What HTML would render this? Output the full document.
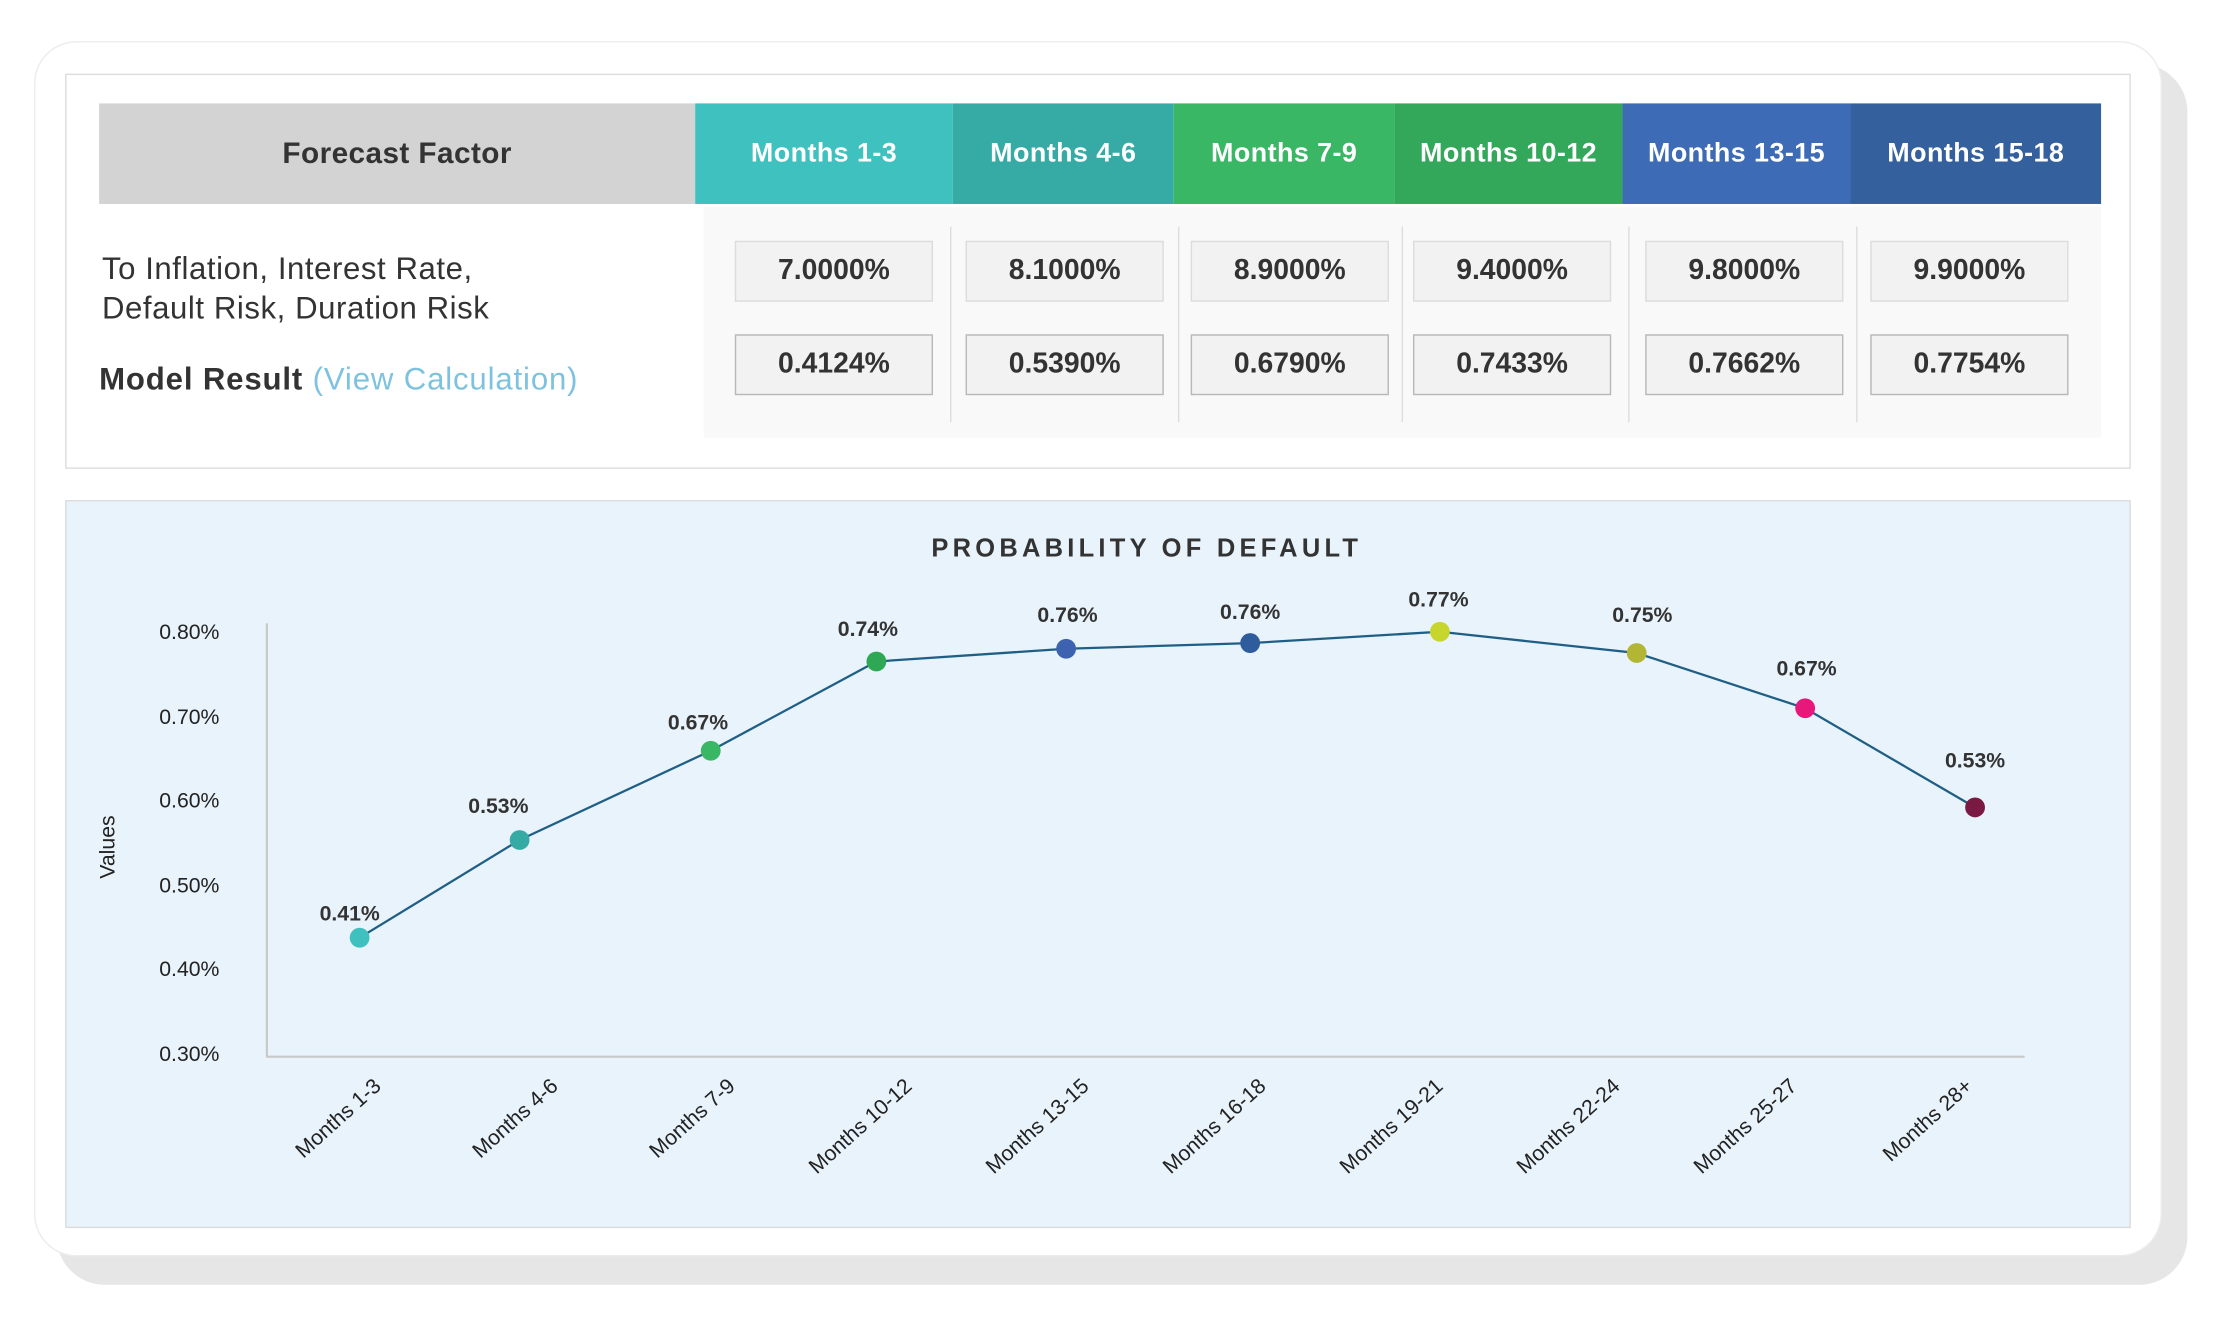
<!DOCTYPE html>
<html><head><meta charset="utf-8"><style>
html,body{margin:0;padding:0;background:#fff;}
body{width:2220px;height:1340px;overflow:hidden;position:relative;font-family:"Liberation Sans",sans-serif;}
#w{position:absolute;left:0;top:0;width:1568px;height:946px;transform:scale(1.41582,1.41649);transform-origin:0 0;}
.a{position:absolute;}
.hd{position:absolute;top:73px;height:71px;color:#fff;font-weight:bold;font-size:19px;letter-spacing:0.3px;display:flex;align-items:center;justify-content:center;}
.bx{position:absolute;width:138px;height:41px;background:#f2f2f2;border:1px solid #dcdcdc;font-size:20px;font-weight:bold;color:#333;display:flex;align-items:center;justify-content:center;}
.r2{top:236px;border-color:#b8b8b8;}
.r1{top:170px;}
.sep{position:absolute;top:160px;height:138px;width:1px;background:#ddd;}
</style></head><body><div id="w">
<div class="a" style="left:40px;top:45px;width:1505px;height:862px;background:#e6e6e6;border-radius:34px;"></div>
<div class="a" style="left:24px;top:29px;width:1503px;height:858px;background:#fff;border-radius:30px;border:1.5px solid #ececec;box-sizing:border-box;"></div>
<div class="a" style="left:46px;top:52px;width:1457px;height:277px;border:1px solid #ddd;background:#fff;"></div>
<div class="hd" style="left:70px;width:421px;background:#d3d3d3;color:#333;font-size:21px;">Forecast Factor</div>
<div class="hd" style="left:491px;width:182px;background:#3fc1c0;">Months 1-3</div>
<div class="hd" style="left:673px;width:156px;background:#36aba6;">Months 4-6</div>
<div class="hd" style="left:829px;width:156px;background:#3ab764;">Months 7-9</div>
<div class="hd" style="left:985px;width:161px;background:#33a85a;">Months 10-12</div>
<div class="hd" style="left:1146px;width:161px;background:#3d6bb5;">Months 13-15</div>
<div class="hd" style="left:1307px;width:177px;background:#34609e;">Months 15-18</div>
<div class="a" style="left:497px;top:146px;width:987px;height:163px;background:#f9f9f9;"></div>
<div class="sep" style="left:671px"></div><div class="sep" style="left:832px"></div><div class="sep" style="left:990px"></div><div class="sep" style="left:1150px"></div><div class="sep" style="left:1311px"></div>
<div class="bx r1" style="left:519px">7.0000%</div><div class="bx r1" style="left:682px">8.1000%</div><div class="bx r1" style="left:841px">8.9000%</div><div class="bx r1" style="left:998px">9.4000%</div><div class="bx r1" style="left:1162px">9.8000%</div><div class="bx r1" style="left:1321px">9.9000%</div>
<div class="bx r2" style="left:519px">0.4124%</div><div class="bx r2" style="left:682px">0.5390%</div><div class="bx r2" style="left:841px">0.6790%</div><div class="bx r2" style="left:998px">0.7433%</div><div class="bx r2" style="left:1162px">0.7662%</div><div class="bx r2" style="left:1321px">0.7754%</div>
<div class="a" style="left:72px;top:176px;font-size:22px;line-height:28px;color:#333;letter-spacing:0.4px;">To Inflation, Interest Rate,<br>Default Risk, Duration Risk</div>
<div class="a" style="left:70px;top:255px;font-size:22px;color:#333;letter-spacing:0.6px;"><b>Model Result</b> <span style="color:#7ec2e0">(View Calculation)</span></div>
<div class="a" style="left:46px;top:353px;width:1457px;height:512px;border:1px solid #dcdcdc;background:#e9f3fb;"></div>
<svg class="a" style="left:0;top:0" width="1568" height="946" font-family="Liberation Sans, sans-serif">
<text x="810" y="393" text-anchor="middle" font-size="18" font-weight="bold" fill="#333" letter-spacing="3">PROBABILITY OF DEFAULT</text>
<line x1="188.5" y1="440" x2="188.5" y2="746" stroke="#c8c8c8" stroke-width="1.5"/>
<line x1="188" y1="746" x2="1430" y2="746" stroke="#c8c8c8" stroke-width="1.5"/>
<g font-size="15" fill="#222" text-anchor="end">
<text x="155" y="451">0.80%</text><text x="155" y="511">0.70%</text><text x="155" y="570">0.60%</text><text x="155" y="630">0.50%</text><text x="155" y="689">0.40%</text><text x="155" y="749">0.30%</text>
</g>
<text transform="translate(81,598) rotate(-90)" text-anchor="middle" font-size="15" fill="#222">Values</text>
<polyline fill="none" stroke="#1f5f85" stroke-width="1.6" points="254,662 367,593 502,530 619,467 753,458 883,454 1017,446 1156,461 1275,500 1395,570"/>
<g>
<circle cx="254" cy="662" r="7" fill="#3fc1c0"/><circle cx="367" cy="593" r="7" fill="#36aba6"/><circle cx="502" cy="530" r="7" fill="#3ab764"/><circle cx="619" cy="467" r="7" fill="#2fa855"/><circle cx="753" cy="458" r="7" fill="#3d63b0"/><circle cx="883" cy="454" r="7" fill="#2f5c9c"/><circle cx="1017" cy="446" r="7" fill="#c7d62c"/><circle cx="1156" cy="461" r="7" fill="#b3b635"/><circle cx="1275" cy="500" r="7" fill="#e8177a"/><circle cx="1395" cy="570" r="7" fill="#7a1a42"/>
</g>
<g font-size="15" font-weight="bold" fill="#333" text-anchor="middle">
<text x="247" y="650">0.41%</text><text x="352" y="574">0.53%</text><text x="493" y="515">0.67%</text><text x="613" y="449">0.74%</text><text x="754" y="439">0.76%</text><text x="883" y="437">0.76%</text><text x="1016" y="428">0.77%</text><text x="1160" y="439">0.75%</text><text x="1276" y="477">0.67%</text><text x="1395" y="542">0.53%</text>
</g>
<g font-size="15" fill="#222" text-anchor="end">
<text transform="translate(270,768) rotate(-42)">Months 1-3</text>
<text transform="translate(395,768) rotate(-42)">Months 4-6</text>
<text transform="translate(520,768) rotate(-42)">Months 7-9</text>
<text transform="translate(645,768) rotate(-42)">Months 10-12</text>
<text transform="translate(770,768) rotate(-42)">Months 13-15</text>
<text transform="translate(895,768) rotate(-42)">Months 16-18</text>
<text transform="translate(1020,768) rotate(-42)">Months 19-21</text>
<text transform="translate(1145,768) rotate(-42)">Months 22-24</text>
<text transform="translate(1270,768) rotate(-42)">Months 25-27</text>
<text transform="translate(1394,768) rotate(-42)">Months 28+</text>
</g>
</svg>
</div></body></html>
